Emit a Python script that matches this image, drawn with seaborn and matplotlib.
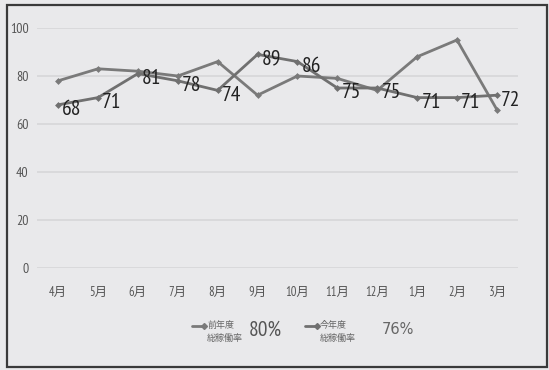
import matplotlib
matplotlib.use("Agg")
import matplotlib.pyplot as plt
import seaborn as sns
import pandas as pd
from matplotlib.lines import Line2D
from matplotlib.patches import Rectangle

months = ["4月", "5月", "6月", "7月", "8月", "9月", "10月", "11月", "12月", "1月", "2月", "3月"]
prev_year = [78, 83, 82, 80, 86, 72, 80, 79, 74, 88, 95, 66]
this_year = [68, 71, 81, 78, 74, 89, 86, 75, 75, 71, 71, 72]
series_names = ["前年度\n総稼働率", "今年度\n総稼働率"]
y_ticks = [0, 20, 40, 60, 80, 100]

sns.set_theme(style="white")
narrow = ["PT Sans Narrow", "Noto Sans CJK JP", "DejaVu Sans"]
plt.rcParams["font.family"] = narrow

df = pd.DataFrame({
    "月": months * 2,
    "稼働率": prev_year + this_year,
    "系列": [series_names[0]] * len(months) + [series_names[1]] * len(months),
})

bg = "#e9e9eb"
fig = plt.figure(figsize=(5.49, 3.70), dpi=100, facecolor=bg)
ax = fig.add_axes([37 / 549, 1 - 268 / 370, 481 / 549, 240 / 370])
ax.set_facecolor(bg)

colors = {series_names[0]: "#7a7a7a", series_names[1]: "#707070"}
sns.lineplot(data=df, x="月", y="稼働率", hue="系列", palette=colors,
             marker="D", markersize=3.5, markeredgewidth=0, linewidth=2.0,
             sort=False, legend=False, ax=ax, clip_on=False)

ax.set_ylim(0, 100)
ax.set_xlim(-0.53, len(months) - 1 + 0.53)
ax.set_yticks(y_ticks)
ax.set_yticklabels([str(v) for v in y_ticks])
ax.set_xticks(range(len(months)))
ax.set_xticklabels(months)
ax.grid(axis="y", color="#d6d6d8", linewidth=1.2)
ax.grid(axis="x", visible=False)
for s in ax.spines.values():
    s.set_visible(False)
ax.tick_params(axis="y", length=0, pad=6, labelsize=10, labelcolor="#555555")
ax.tick_params(axis="x", length=0, pad=13, labelsize=9, labelcolor="#555555")
ax.set_xlabel("")
ax.set_ylabel("")

# value labels for the current year
for i, v in enumerate(this_year):
    ax.annotate(str(v), (i, v), xytext=(3, -3.5), textcoords="offset points",
                ha="left", va="center", fontsize=15.5, color="#222222",
                annotation_clip=False)

# legend entries with the yearly average rates
avgs = [round(sum(prev_year) / len(prev_year)), round(sum(this_year) / len(this_year))]
entries = [(192, series_names[0], 249, avgs[0], narrow, 15.5, "#555555"),
           (305, series_names[1], 382, avgs[1], ["DejaVu Sans"], 10.5, "#666666")]
for x0, name, xp, avg, fam, fs, col in entries:
    fig.add_artist(Line2D([x0 / 549, (x0 + 12) / 549], [1 - 326 / 370] * 2,
                          color=colors[name], linewidth=2.0, marker="D",
                          markersize=3, markevery=[1]))
    fig.text((x0 + 15) / 549, 1 - 332 / 370, name, fontsize=6.5, color="#666666",
             ha="left", va="center", linespacing=1.6,
             family=["Noto Sans CJK JP", "DejaVu Sans"])
    fig.text(xp / 549, 1 - 330 / 370, f"{avg}%", fontsize=fs, color=col,
             ha="left", va="center", family=fam)

# outer frame
fig.add_artist(Rectangle((7 / 549, 3 / 370), 540 / 549, 362 / 370,
                         transform=fig.transFigure, fill=False,
                         edgecolor="#3a3a3a", linewidth=1.6))

fig.savefig("out.png", dpi=100, facecolor=bg)
